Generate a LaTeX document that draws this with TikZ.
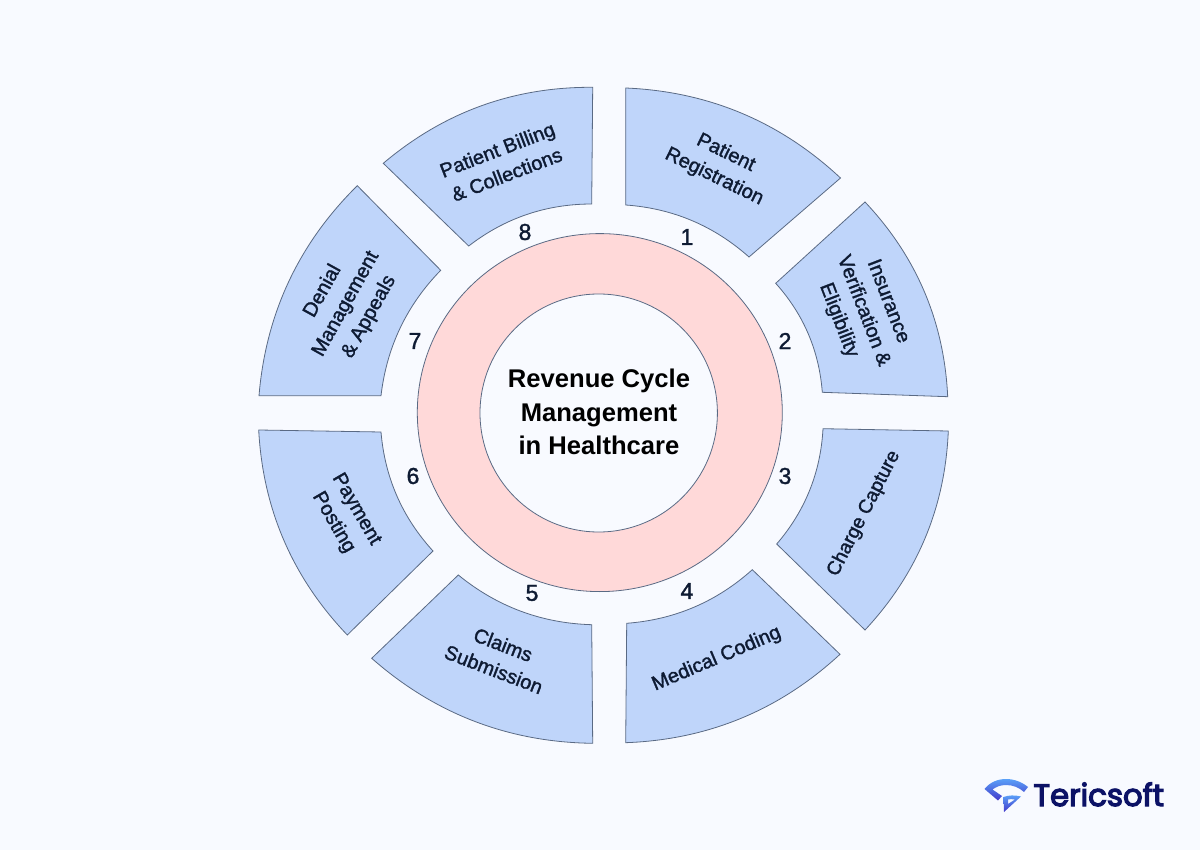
\documentclass[tikz,border=0pt]{standalone}
\usepackage{fontspec}
\usetikzlibrary{calc}
\setmainfont{Liberation Sans}
\newfontfamily\labelfont{Liberation Sans}[FakeBold=1.5]
\newfontfamily\titlefont{Liberation Sans}
\newfontfamily\logofont{Poppins}[FakeBold=4]
\definecolor{pagebg}{HTML}{F8FAFF}
\definecolor{segfill}{HTML}{BFD5FA}
\definecolor{ringfill}{HTML}{FFD9D9}
\definecolor{edgecol}{HTML}{5A6A84}
\definecolor{inktext}{HTML}{0E1B33}
\definecolor{logonavy}{HTML}{0C1266}
\definecolor{logoblue}{HTML}{5AA0F8}
\definecolor{logoviolet}{HTML}{4338CA}
\tikzset{
  segshape/.style={draw=edgecol,line width=0.4pt,fill=segfill,line join=miter},
  ringshape/.style={draw=edgecol,line width=0.4pt},
  seglabel/.style={font=\labelfont\fontsize{10}{13.2}\selectfont,text=inktext,align=center,inner sep=0pt},
  numlabel/.style={font=\labelfont\fontsize{11.5}{13}\selectfont,text=inktext,inner sep=0pt},
  titlelabel/.style={font=\titlefont\bfseries\fontsize{12.8}{16.6}\selectfont,text=black,align=center,inner sep=0pt},
}
\newcommand{\outf}{0.37}
\newcommand{\innf}{0.34}
\newcommand{\ringseg}[5]{%
  \coordinate (#1a) at #2;
  \coordinate (#1b) at #3;
  \coordinate (#1c) at #4;
  \coordinate (#1d) at #5;
  \coordinate (#1m) at ($(#1a)!.5!(#1b)$);
  \coordinate (#1n) at ($(#1c)!.5!(#1d)$);
  \coordinate (#1q) at ($(#1m)!\outf!90:(#1b)$);
  \coordinate (#1r) at ($(#1n)!\innf!-90:(#1d)$);
  \draw[segshape] (#1a) .. controls ($(#1a)!2/3!(#1q)$) and ($(#1b)!2/3!(#1q)$) .. (#1b)
     -- (#1c) .. controls ($(#1c)!2/3!(#1r)$) and ($(#1d)!2/3!(#1r)$) .. (#1d) -- cycle;
}
\begin{document}
\begin{tikzpicture}[x=0.5pt,y=-0.5pt]
\useasboundingbox (0,0) rectangle (1200,850);
\fill[pagebg] (0,0) rectangle (1200,850);
% ring
\draw[ringshape,fill=ringfill] (599.8,412.6) ellipse [x radius=182.5,y radius=179];
\draw[ringshape,fill=pagebg] (598.7,413) ellipse [x radius=118.7,y radius=119];
\node[titlelabel] (title) at (599,412) {Revenue Cycle\\Management\\in Healthcare};
% segments
\ringseg{s1}{(625.7,88)}{(840.5,178)}{(749,257)}{(625.7,205)}
\ringseg{s2}{(865,202)}{(947.7,396.7)}{(822.3,392.3)}{(775.7,283.3)}
\ringseg{s3}{(948.3,431)}{(865,630)}{(776.7,544)}{(823,428.7)}
\ringseg{s4}{(840,654.3)}{(625.7,742.7)}{(626.7,623.3)}{(752.3,569.7)}
\ringseg{s5}{(592.7,743.3)}{(371.7,658.3)}{(458.3,575)}{(591.7,624.7)}
\ringseg{s6}{(347.3,635)}{(258.7,430)}{(381,432)}{(433,551)}
\ringseg{s7}{(259,395.7)}{(357.3,185.7)}{(440.7,270.3)}{(381,395.7)}
\ringseg{s8}{(383.3,163.3)}{(592.7,87.3)}{(591.7,204)}{(468.7,246)}
% labels
\node[seglabel,rotate=-26] (l1) at (720,165) {Patient\\Registration};
\node[seglabel,rotate=-69] (l2) at (863,311) {Insurance\\Verification \&\\Eligibility};
\node[seglabel,rotate=63,font=\labelfont\fontsize{9.7}{13.2}\selectfont] (l3) at (864,513.5) {Charge Capture};
\node[seglabel,rotate=23] (l4) at (716.7,659) {Medical Coding};
\node[seglabel,rotate=-21] (l5) at (498.5,657) {Claims\\Submission};
\node[seglabel,rotate=-60] (l6) at (344.7,516) {Payment\\Posting};
\node[seglabel,rotate=61] (l7) at (346,304) {Denial\\Management\\\& Appeals};
\node[seglabel,rotate=21] (l8) at (502,162) {Patient Billing\\\& Collections};
% numbers
\node[numlabel] (n1) at (687,237) {1};
\node[numlabel] (n2) at (785,341) {2};
\node[numlabel] (n3) at (785,476) {3};
\node[numlabel] (n4) at (687,591) {4};
\node[numlabel] (n5) at (532,593) {5};
\node[numlabel] (n6) at (413,476) {6};
\node[numlabel] (n7) at (415,341) {7};
\node[numlabel] (n8) at (525,232) {8};
% logo
\node[font=\logofont\fontsize{15.4}{18}\selectfont,text=logonavy,inner sep=0pt,anchor=base west] (logo) at (1033,806) {Tericsoft};
\shade[top color=logoblue,bottom color=logoviolet,even odd rule]
  (984.5,789) .. controls (990,782) and (998,779) .. (1006,779)
  .. controls (1014,779) and (1022,782) .. (1028,787)
  -- (1024,792) .. controls (1019,787.5) and (1013,785) .. (1006,785)
  .. controls (1000,785) and (996,787) .. (992.5,789.5)
  -- (1002,796) -- (998,800.5) -- cycle;
\shade[top color=logoblue,bottom color=logoviolet,even odd rule]
  (1004,812) -- (1003.5,797) .. controls (1009,795) and (1015,795) .. (1021,796.5) -- cycle
  (1008,804) -- (1015,799.5) .. controls (1012,799) and (1010,799) .. (1008,799.5) -- cycle;
\end{tikzpicture}
\end{document}
